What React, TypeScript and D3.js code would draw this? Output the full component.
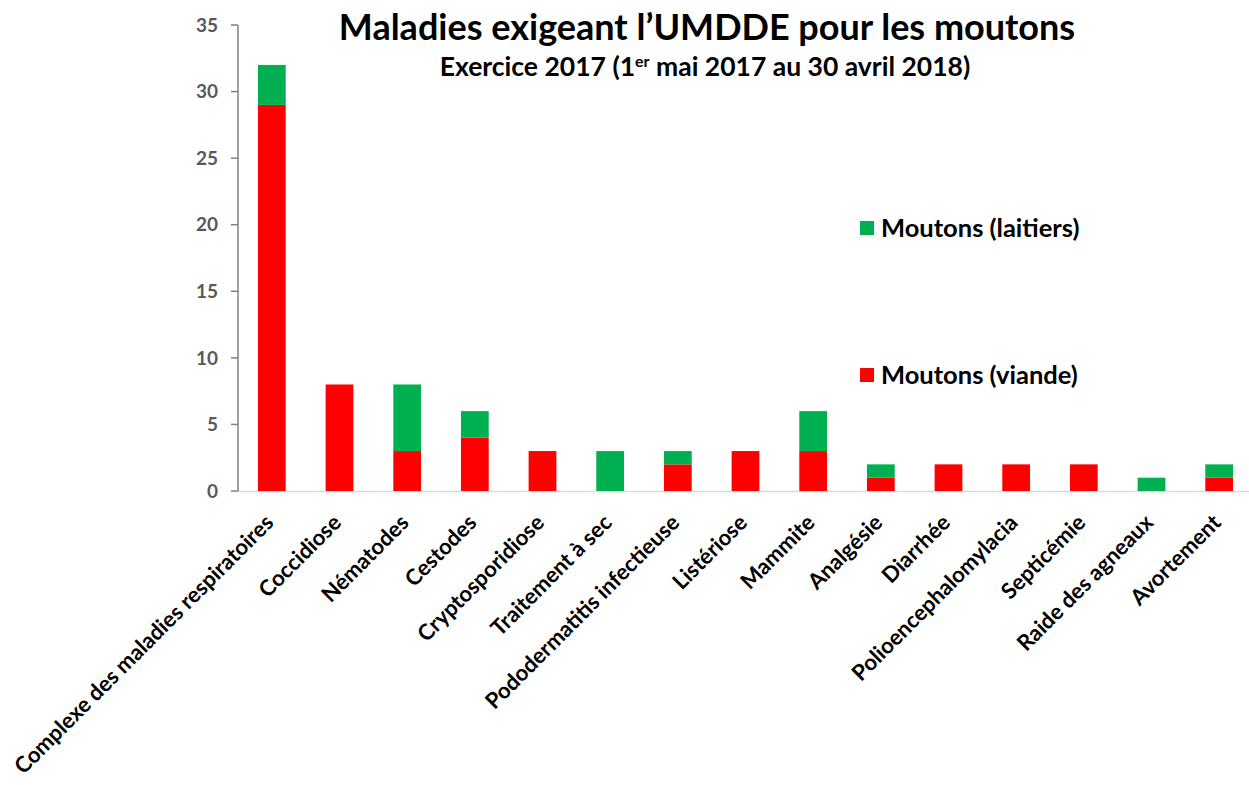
import React from "react";
import * as d3 from "d3";

const categories = [
  "Complexe des maladies respiratoires",
  "Coccidiose",
  "Nématodes",
  "Cestodes",
  "Cryptosporidiose",
  "Traitement à sec",
  "Pododermatitis infectieuse",
  "Listériose",
  "Mammite",
  "Analgésie",
  "Diarrhée",
  "Polioencephalomylacia",
  "Septicémie",
  "Raide des agneaux",
  "Avortement",
];
const viande = [29, 8, 3, 4, 3, 0, 2, 3, 3, 1, 2, 2, 2, 0, 1];
const laitiers = [3, 0, 5, 2, 0, 3, 1, 0, 3, 1, 0, 0, 0, 1, 1];
const yTicks = [0, 5, 10, 15, 20, 25, 30, 35];
const seriesNames = ["Moutons (laitiers)", "Moutons (viande)"];
const colors = { viande: "#FF0000", laitiers: "#00B050" };

const W = 1249;
const H = 785;
const FONT = "Lato, 'Open Sans', sans-serif";

export default function App() {
  const x = d3
    .scaleBand<string>()
    .domain(categories)
    .range([238, 1253])
    .paddingInner(0.59)
    .paddingOuter(0.295);
  const y = d3.scaleLinear().domain([0, 35]).range([491, 25]);
  const bw = x.bandwidth();

  return (
    <svg
      width={W}
      height={H}
      style={{ position: "absolute", left: 0, top: 0, background: "#fff" }}
      fontFamily={FONT}
    >
      <rect x={0} y={0} width={W} height={H} fill="#fff" />
      {/* baseline */}
      <line x1={238} x2={1249} y1={y(0) + 0.5} y2={y(0) + 0.5} stroke="#D9D9D9" strokeWidth={1.5} />
      {/* bars */}
      {categories.map((c, i) => (
        <g key={c}>
          {viande[i] > 0 && (
            <rect x={x(c)} y={y(viande[i])} width={bw} height={y(0) - y(viande[i])} fill={colors.viande} />
          )}
          {laitiers[i] > 0 && (
            <rect
              x={x(c)}
              y={y(viande[i] + laitiers[i])}
              width={bw}
              height={y(viande[i]) - y(viande[i] + laitiers[i])}
              fill={colors.laitiers}
            />
          )}
        </g>
      ))}
      {/* y axis */}
      <line x1={238} x2={238} y1={y(35)} y2={y(0)} stroke="#808080" strokeWidth={1.5} />
      {yTicks.map((t) => (
        <g key={t}>
          <line x1={231} x2={238} y1={y(t)} y2={y(t)} stroke="#808080" strokeWidth={1.5} />
          <text
            x={218}
            y={y(t)}
            dy="0.35em"
            textAnchor="end"
            fontSize={19}
            fontWeight="bold"
            fill="#595959"
          >
            {t}
          </text>
        </g>
      ))}
      {/* x labels */}
      {categories.map((c) => {
        const cx = (x(c) as number) + bw / 2 + 3;
        const cy = 524;
        return (
          <text
            key={c}
            transform={`translate(${cx},${cy}) rotate(-45)`}
            textAnchor="end"
            fontSize={22}
            fontWeight="bold"
            fill="#000"
          >
            {c}
          </text>
        );
      })}
      {/* title */}
      <text x={707} y={40} textAnchor="middle" fontSize={36} fontWeight="bold" fill="#000">
        Maladies exigeant l’UMDDE pour les moutons
      </text>
      <text x={705} y={76} textAnchor="middle" fontSize={26.5} fontWeight="bold" fill="#000">
        Exercice 2017 (1
        <tspan fontSize={16} dy={-9}>er</tspan>
        <tspan dy={9}> mai 2017 au 30 avril 2018)</tspan>
      </text>
      {/* legend */}
      {[
        { name: seriesNames[0], color: colors.laitiers, yy: 228 },
        { name: seriesNames[1], color: colors.viande, yy: 375 },
      ].map((l) => (
        <g key={l.name}>
          <rect x={860} y={l.yy - 7} width={14} height={14} fill={l.color} />
          <text x={881} y={l.yy} dy="0.35em" fontSize={25.5} fontWeight="bold" fill="#000">
            {l.name}
          </text>
        </g>
      ))}
    </svg>
  );
}
